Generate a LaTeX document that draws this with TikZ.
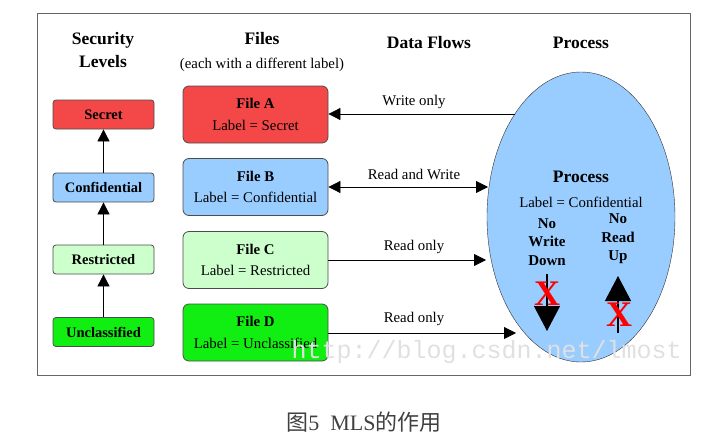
\documentclass[tikz,border=0pt]{standalone}
\usepackage{fontspec}
\setmainfont{Liberation Serif}
\setmonofont{Liberation Mono}
\newfontfamily\cjk{Noto Sans CJK SC}
\usetikzlibrary{arrows.meta,shapes.geometric}
\definecolor{secretred}{HTML}{F44848}
\definecolor{confblue}{HTML}{99CCFF}
\definecolor{restrgreen}{HTML}{CCFFCC}
\definecolor{unclgreen}{HTML}{11EE11}
\begin{document}
\begin{tikzpicture}[x=1pt,y=-1pt,
    level/.style ={draw=black!70, thick, rounded corners=3pt, minimum width=101pt, minimum height=29pt, inner sep=0pt,
                   font=\fontsize{14.5}{16}\selectfont\bfseries},
    filebox/.style ={draw=black!70, thick, rounded corners=6pt, minimum width=145pt, minimum height=57pt, inner sep=0pt,
                     align=center, font=\fontsize{14.8}{21.5}\selectfont},
    heading/.style ={align=center, font=\fontsize{17.5}{23}\selectfont\bfseries},
    flowlabel/.style ={font=\fontsize{14.8}{16}\selectfont},
    flow/.style ={thick, -{Triangle[length=12pt,width=12pt]}},
    rule/.style ={very thick, -{Triangle[length=25pt,width=26pt]}},
    cross/.style ={text=red, font=\fontsize{36}{36}\selectfont\bfseries}]
   \useasboundingbox (0,0) rectangle (726,447);
   \draw[black!60, thick] (37,13) rectangle (690,375);
   % headings
   \node[heading] (hlevels) at (103,50) {Security\\Levels};
   \node[heading] (hfiles) at (262,39) {Files};
   \node[font=\fontsize{14.8}{16}\selectfont] (hsub) at (262,65) {(each with a different label)};
   \node[heading] (hflows) at (429,43) {Data Flows};
   \node[heading] (hproc) at (581,43) {Process};
   % security levels
   \node[level, fill=secretred] (secret) at (103.5,114.5) {Secret};
   \node[level, fill=confblue] (conf) at (103.5,187.5) {Confidential};
   \node[level, fill=restrgreen] (restr) at (103.5,259.5) {Restricted};
   \node[level, fill=unclgreen] (uncl) at (103.5,332) {Unclassified};
   \draw[flow] (uncl) to (restr);
   \draw[flow] (restr) to (conf);
   \draw[flow] (conf) to (secret);
   % files
   \node[filebox, fill=secretred] (fileA) at (255.5,114.5) {\textbf{File A}\\Label = Secret};
   \node[filebox, fill=confblue] (fileB) at (255.5,187) {\textbf{File B}\\Label = Confidential};
   \node[filebox, fill=restrgreen] (fileC) at (255.5,260) {\textbf{File C}\\Label = Restricted};
   \node[filebox, fill=unclgreen] (fileD) at (255.5,332.5) {\textbf{File D}\\Label = Unclassified};
   % process
   \node[ellipse, draw=black!80, fill=confblue, minimum width=188pt, minimum height=290pt] (proc) at (581,217) {};
   \node[heading] (ptitle) at (581,177) {Process};
   \node[flowlabel] (plabel) at (581,202) {Label = Confidential};
   \node[align=center, font=\fontsize{15}{18.5}\selectfont\bfseries] (nwd) at (547,242) {No\\Write\\Down};
   \node[align=center, font=\fontsize{15}{18.5}\selectfont\bfseries] (nru) at (618,239) {No\\Read\\Up};
   \coordinate (dtop) at (547,274);
   \coordinate (dbot) at (547,331);
   \coordinate (ubot) at (618,333);
   \coordinate (utop) at (618,276);
   \draw[rule] (dtop) to (dbot);
   \draw[rule] (ubot) to (utop);
   \node[cross] (xdown) at (547,294) {X};
   \node[cross] (xup) at (619,315) {X};
   % data flows
   \coordinate (wA) at (515,114);
   \coordinate (rB) at (488,187);
   \coordinate (rC) at (486,260);
   \coordinate (rD) at (516,333);
   \draw[flow] (wA) to (wA -| fileA.east);
   \draw[flow, {Triangle[length=12pt,width=12pt]}-{Triangle[length=12pt,width=12pt]}] (rB -| fileB.east) to (rB);
   \draw[flow] (rC -| fileC.east) to (rC);
   \draw[flow] (rD -| fileD.east) to (rD);
   \node[flowlabel] (lA) at (414,102) {Write only};
   \node[flowlabel] (lB) at (414,174) {Read and Write};
   \node[flowlabel] (lC) at (414,247) {Read only};
   \node[flowlabel] (lD) at (414,319) {Read only};
   % watermark
   \node[text=black!12, font=\ttfamily\fontsize{25}{25}\selectfont, anchor=west] (mark) at (288,352) {http://blog.csdn.net/lmost};
   % caption
   \node[text=black!75, anchor=center] (cap) at (364,422) {\fontsize{22}{24}\selectfont{\cjk 图}5\ \ MLS{\cjk 的作用}};
 \end{tikzpicture}
\end{document}
